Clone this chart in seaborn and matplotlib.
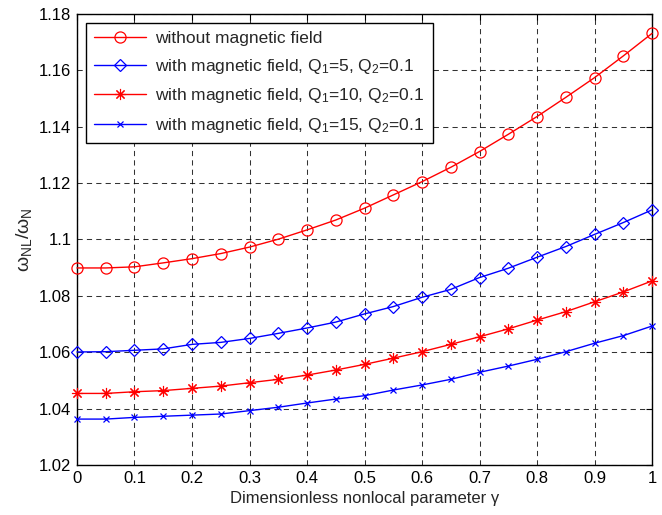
import numpy as np
import pandas as pd
import matplotlib
matplotlib.use("Agg")
import matplotlib.pyplot as plt
import seaborn as sns

gamma = [0, 0.05, 0.1, 0.15, 0.2, 0.25, 0.3, 0.35, 0.4, 0.45, 0.5,
         0.55, 0.6, 0.65, 0.7, 0.75, 0.8, 0.85, 0.9, 0.95, 1.0]
no_field = [1.0899, 1.0899, 1.0903, 1.0917, 1.0932, 1.0950, 1.0973, 1.1001, 1.1034, 1.1069, 1.1111,
            1.1158, 1.1205, 1.1256, 1.1312, 1.1373, 1.1436, 1.1504, 1.1574, 1.1651, 1.1731]
q1_5 = [1.0601, 1.0602, 1.0607, 1.0612, 1.0628, 1.0635, 1.0649, 1.0667, 1.0686, 1.0707, 1.0736,
        1.0762, 1.0795, 1.0823, 1.0865, 1.0898, 1.0937, 1.0975, 1.1018, 1.1060, 1.1105]
q1_10 = [1.0454, 1.0454, 1.0460, 1.0464, 1.0472, 1.0480, 1.0492, 1.0504, 1.0519, 1.0537, 1.0557,
         1.0579, 1.0602, 1.0628, 1.0655, 1.0683, 1.0714, 1.0744, 1.0779, 1.0814, 1.0853]
q1_15 = [1.0363, 1.0363, 1.0369, 1.0373, 1.0377, 1.0381, 1.0393, 1.0405, 1.0420, 1.0434, 1.0446,
         1.0466, 1.0484, 1.0504, 1.0529, 1.0551, 1.0575, 1.0602, 1.0632, 1.0659, 1.0693]
labels = ["without magnetic field",
          r"with magnetic field, Q$_1$=5, Q$_2$=0.1",
          r"with magnetic field, Q$_1$=10, Q$_2$=0.1",
          r"with magnetic field, Q$_1$=15, Q$_2$=0.1"]
x_ticks = [0, 0.1, 0.2, 0.3, 0.4, 0.5, 0.6, 0.7, 0.8, 0.9, 1]
y_ticks = [1.02, 1.04, 1.06, 1.08, 1.1, 1.12, 1.14, 1.16, 1.18]
y_ticklabels = ["1.02", "1.04", "1.06", "1.08", "1.1", "1.12", "1.14", "1.16", "1.18"]

sns.set_style("white")
plt.rcParams["font.family"] = ["Liberation Sans", "DejaVu Sans"]
plt.rcParams["mathtext.fontset"] = "custom"
plt.rcParams["mathtext.rm"] = "Liberation Sans"
plt.rcParams["mathtext.it"] = "Liberation Sans"
plt.rcParams["mathtext.bf"] = "Liberation Sans:bold"

fig = plt.figure(figsize=(6.62, 5.15), dpi=100)
ax = fig.add_axes([0.1163, 0.097, 0.8687, 0.876])

series = [no_field, q1_5, q1_10, q1_15]
styles = [
    dict(color="#ff0000", marker="o", ms=8, mfc="none", mec="#ff0000", mew=0.9),
    dict(color="#0000ff", marker="D", ms=6.5, mfc="none", mec="#0000ff", mew=0.9),
    dict(color="#ff0000", marker=(8, 2, 0), ms=8, mec="#ff0000", mew=0.8),
    dict(color="#0000ff", marker="x", ms=5, mec="#0000ff", mew=0.9),
]
for vals, lab, st in zip(series, labels, styles):
    df = pd.DataFrame({"gamma": gamma, "ratio": vals})
    sns.lineplot(data=df, x="gamma", y="ratio", ax=ax, label=lab, lw=1.0,
                 linestyle="-", zorder=3, clip_on=False, **st)

ax.set_xlim(0, 1)
ax.set_ylim(1.02, 1.18)
ax.set_xticks(x_ticks)
ax.set_xticklabels([f"{t:g}" for t in x_ticks])
ax.set_yticks(y_ticks)
ax.set_yticklabels(y_ticklabels)
ax.tick_params(direction="in", top=True, right=True, length=4, labelsize=12, width=0.8,
               colors="black", pad=4)
ax.grid(True, color="black", linestyle=(0, (5, 4)), linewidth=0.75, alpha=0.8)
for s in ax.spines.values():
    s.set_visible(True)
    s.set_color("black")
    s.set_linewidth(1.0)

ax.set_xlabel("Dimensionless nonlocal parameter γ", fontsize=12, labelpad=4)
ax.set_ylabel(r"$\omega_{NL}/\omega_N$", fontsize=14, labelpad=4)

leg = ax.legend(loc="upper left", fontsize=12.5, frameon=True, fancybox=False,
                edgecolor="black", framealpha=1, handlelength=3.0,
                labelspacing=0.6, borderaxespad=0.5, borderpad=0.5, handletextpad=0.5)
leg.get_frame().set_linewidth(1.0)
leg.set_zorder(5)

fig.savefig("out.png", dpi=100)
